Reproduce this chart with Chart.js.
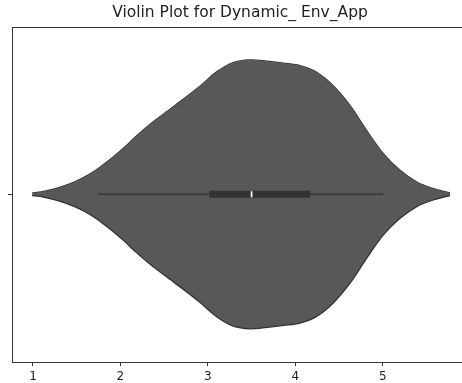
<!DOCTYPE html>
<html>
<head>
<meta charset="utf-8">
<script src="https://cdn.jsdelivr.net/npm/chart.js@4"></script>
<style>
  html, body { margin: 0; padding: 0; background: #fff; overflow: hidden; }
  canvas { display: block; }
</style>
</head>
<body>
<canvas id="violin" width="470" height="383"></canvas>
<script>
// Violin outline: value and half width (in category units)
const violinX = [0.99, 1.096, 1.286, 1.477, 1.669, 1.859, 2.05, 2.145, 2.336, 2.527, 2.717, 2.908, 3.10, 3.29, 3.48,
                 3.672, 3.862, 4.053, 4.244, 4.434, 4.626, 4.817, 5.007, 5.198, 5.389, 5.579, 5.77];
const violinHalfWidth = [0.004, 0.007, 0.019, 0.037, 0.063, 0.099, 0.141, 0.165, 0.208, 0.246, 0.283, 0.322, 0.365, 0.393, 0.401,
                         0.397, 0.391, 0.384, 0.364, 0.324, 0.265, 0.19, 0.121, 0.0714, 0.0366, 0.017, 0.004];
// Inner box plot
const whiskerRange = [1.745, 5.01];
const boxRange = [3.015, 4.17];
const medianValue = 3.5;
// Axis ticks
const xTicks = [1, 2, 3, 4, 5];
const yCategories = [''];

const upper = violinX.map((x, i) => ({ x: x, y: violinHalfWidth[i] }));
const lower = violinX.map((x, i) => ({ x: x, y: -violinHalfWidth[i] }));

// Draw the top and right spines as well, like matplotlib
const frame = {
    id: 'frame',
    afterDraw(chart) {
        const { ctx, chartArea } = chart;
        ctx.save();
        ctx.strokeStyle = '#333333';
        ctx.lineWidth = 1;
        ctx.strokeRect(Math.round(chartArea.left) + 0.5, Math.round(chartArea.top) + 0.5,
                       Math.round(chartArea.right - chartArea.left), Math.round(chartArea.bottom - chartArea.top));
        ctx.restore();
    }
};

new Chart(document.getElementById('violin'), {
    type: 'line',
    data: {
        datasets: [
            {
                data: upper,
                order: 10,
                borderColor: '#333333',
                borderWidth: 1.3,
                pointRadius: 0,
                tension: 0.3,
                fill: false
            },
            {
                data: lower,
                order: 9,
                borderColor: '#333333',
                borderWidth: 1.3,
                pointRadius: 0,
                tension: 0.3,
                backgroundColor: '#585858',
                fill: '-1'
            },
            {
                data: whiskerRange.map(x => ({ x: x, y: 0 })),
                order: 3,
                borderColor: '#363636',
                borderWidth: 1.6,
                pointRadius: 0,
                fill: false
            },
            {
                data: boxRange.map(x => ({ x: x, y: 0 })),
                order: 2,
                borderColor: '#333333',
                borderWidth: 7,
                borderCapStyle: 'butt',
                pointRadius: 0,
                fill: false
            },
            {
                data: [{ x: medianValue - 0.01, y: 0 }, { x: medianValue + 0.01, y: 0 }],
                order: 1,
                borderColor: '#ffffff',
                borderWidth: 6,
                borderCapStyle: 'butt',
                pointRadius: 0,
                fill: false
            }
        ]
    },
    options: {
        responsive: false,
        animation: false,
        layout: { padding: { left: 12, right: 2, top: 0, bottom: 0 } },
        plugins: {
            legend: { display: false },
            tooltip: { enabled: false },
            title: {
                display: true,
                text: 'Violin Plot for Dynamic_ Env_App',
                color: '#222222',
                font: { family: 'DejaVu Sans', size: 15.5, weight: 'normal' },
                padding: { top: 4, bottom: 4 }
            }
        },
        scales: {
            x: {
                type: 'linear',
                min: 0.76,
                max: 5.975,
                afterBuildTicks: scale => { scale.ticks = xTicks.map(v => ({ value: v })); },
                afterFit: scale => { scale.height = 21; },
                grid: { drawOnChartArea: false, tickLength: 4, color: '#333333' },
                border: { display: false },
                ticks: {
                    color: '#222222',
                    padding: 4,
                    maxRotation: 0,
                    font: { family: 'DejaVu Sans', size: 12 }
                }
            },
            y: {
                type: 'linear',
                min: -0.5,
                max: 0.5,
                afterBuildTicks: scale => { scale.ticks = yCategories.map((c, i) => ({ value: i })); },
                afterFit: scale => { scale.width = 0; },
                grid: { drawOnChartArea: false, tickLength: 4, color: '#333333' },
                border: { display: false },
                ticks: {
                    callback: (v, i) => yCategories[i],
                    font: { family: 'DejaVu Sans', size: 11 }
                }
            }
        }
    },
    plugins: [frame]
});
</script>
</body>
</html>
